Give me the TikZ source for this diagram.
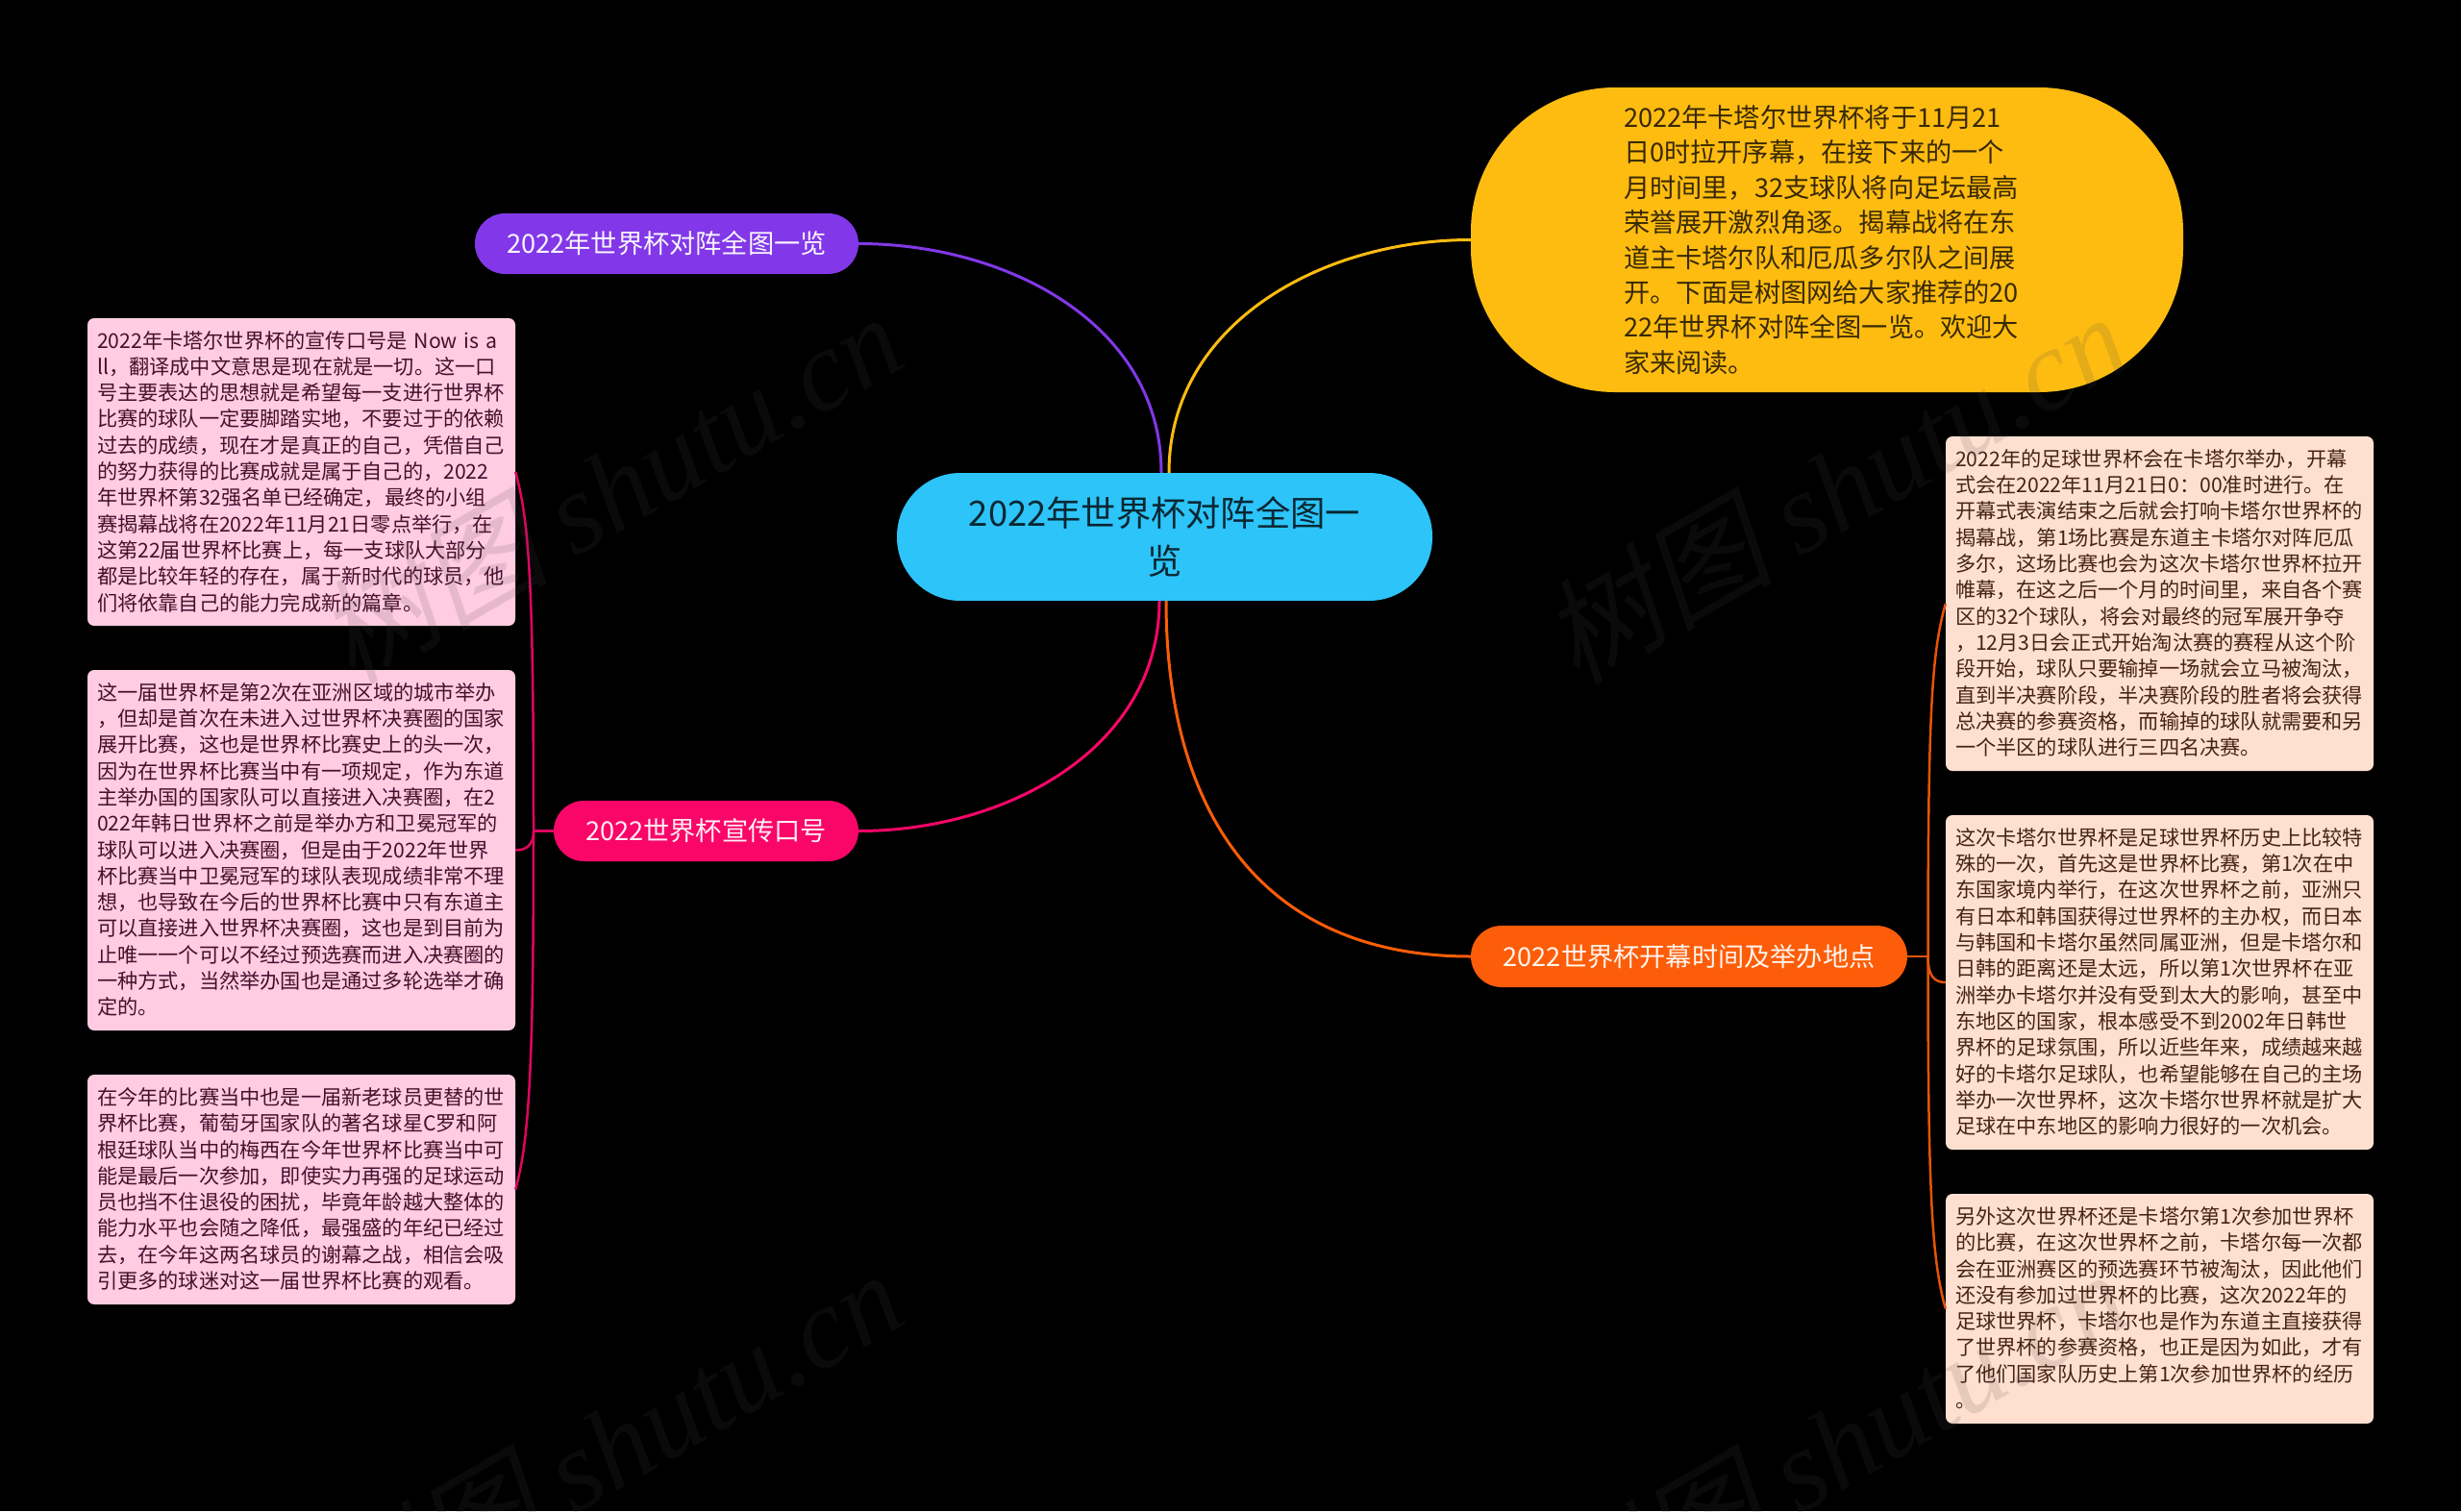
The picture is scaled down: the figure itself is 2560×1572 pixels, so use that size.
\documentclass[tikz,border=0pt]{standalone}
\usepackage{fontspec}
\usepackage{tikz}
\setmainfont{Noto Sans CJK SC}
\newfontfamily\markcjk[FakeSlant=0.2]{Noto Sans CJK SC}
\newfontfamily\marklatin{Liberation Serif}[ItalicFont=* Italic]
\definecolor{rootcol}{RGB}{45,196,249}
\definecolor{introcol}{RGB}{254,188,17}
\definecolor{titlecol}{RGB}{130,56,232}
\definecolor{slogancol}{RGB}{250,6,104}
\definecolor{opencol}{RGB}{253,93,8}
\definecolor{pinkcol}{RGB}{255,204,225}
\definecolor{peachcol}{RGB}{255,224,208}
\definecolor{pinktext}{RGB}{70,15,45}
\definecolor{peachtext}{RGB}{70,35,20}
\tikzset{
  pill/.style={fill=#1, inner sep=0pt, align=center},
  leaf/.style={inner xsep=10pt, inner ysep=0pt, text width=425pt, align=left, rounded corners=7pt,
    font=\fontsize{21.2pt}{27.3pt}\selectfont,
    execute at begin node={\rule{0pt}{21pt}}, execute at end node={\rule[-6pt]{0pt}{6pt}}},
  leafpink/.style={leaf, fill=pinkcol, text=pinktext},
  leafpeach/.style={leaf, fill=peachcol, text=peachtext},
  link/.style={line width=3pt, draw=#1},
  sublink/.style={line width=2.5pt, draw=#1!90!black},
  markword/.style={anchor=base east, rotate=30, text=black!72, text opacity=0.14,
    font=\fontsize{120pt}{120pt}\selectfont}
}
\newcommand{\markword}{{\markcjk 树图} {\marklatin\itshape shutu.cn}}
\begin{document}
\begin{tikzpicture}[x=1pt,y=-1pt]
        \fill[black] (0,0) rectangle (2560,1572);
        \useasboundingbox (0,0) rectangle (2560,1572);
        \node[pill=rootcol, rounded corners=66pt, minimum width=557pt, minimum height=133pt, text=rootcol!20!black,
          font=\fontsize{36.3pt}{50pt}\selectfont] at (1211.5,558.5) (root){2022年世界杯对阵全图一\\览};
        \node[pill=introcol, rounded corners=150pt, minimum width=741pt, minimum height=317pt, text=introcol!22!black,
          text width=423pt, align=left, font=\fontsize{27.2pt}{36.4pt}\selectfont] at (1900.5,249.5) (intro){2022年卡塔尔世界杯将于11月21\\
          日0时拉开序幕，在接下来的一个\\
          月时间里，32支球队将向足坛最高\\
          荣誉展开激烈角逐。揭幕战将在东\\
          道主卡塔尔队和厄瓜多尔队之间展\\
          开。下面是树图网给大家推荐的20\\
          22年世界杯对阵全图一览。欢迎大\\
          家来阅读。};
        \node[pill=titlecol, rounded corners=31.5pt, minimum width=399pt, minimum height=63pt, text=white!95!titlecol,
          font=\fontsize{27.2pt}{36pt}\selectfont] at (693.5,253.5) (title){2022年世界杯对阵全图一览};
        \node[pill=slogancol, rounded corners=31.5pt, minimum width=317pt, minimum height=63pt, text=white!93!slogancol,
          font=\fontsize{27.2pt}{36pt}\selectfont] at (734.5,864.5) (slogan){2022世界杯宣传口号};
        \node[pill=opencol, rounded corners=32pt, minimum width=454pt, minimum height=64pt, text=white!93!opencol,
          font=\fontsize{27.2pt}{36pt}\selectfont] at (1757,995) (open){2022世界杯开幕时间及举办地点};
        \node[leafpink, minimum height=320pt] at (313.5,491) (slogana){2022年卡塔尔世界杯的宣传口号是 Now is a\\
          ll，翻译成中文意思是现在就是一切。这一口\\
          号主要表达的思想就是希望每一支进行世界杯\\
          比赛的球队一定要脚踏实地，不要过于的依赖\\
          过去的成绩，现在才是真正的自己，凭借自己\\
          的努力获得的比赛成就是属于自己的，2022\\
          年世界杯第32强名单已经确定，最终的小组\\
          赛揭幕战将在2022年11月21日零点举行，在\\
          这第22届世界杯比赛上，每一支球队大部分\\
          都是比较年轻的存在，属于新时代的球员，他\\
          们将依靠自己的能力完成新的篇章。};
        \node[leafpink, minimum height=375pt] at (313.5,884.5) (sloganb){这一届世界杯是第2次在亚洲区域的城市举办\\
          ，但却是首次在未进入过世界杯决赛圈的国家\\
          展开比赛，这也是世界杯比赛史上的头一次，\\
          因为在世界杯比赛当中有一项规定，作为东道\\
          主举办国的国家队可以直接进入决赛圈，在2\\
          022年韩日世界杯之前是举办方和卫冕冠军的\\
          球队可以进入决赛圈，但是由于2022年世界\\
          杯比赛当中卫冕冠军的球队表现成绩非常不理\\
          想，也导致在今后的世界杯比赛中只有东道主\\
          可以直接进入世界杯决赛圈，这也是到目前为\\
          止唯一一个可以不经过预选赛而进入决赛圈的\\
          一种方式，当然举办国也是通过多轮选举才确\\
          定的。};
        \node[leafpink, minimum height=239pt] at (313.5,1237.5) (sloganc){在今年的比赛当中也是一届新老球员更替的世\\
          界杯比赛，葡萄牙国家队的著名球星C罗和阿\\
          根廷球队当中的梅西在今年世界杯比赛当中可\\
          能是最后一次参加，即使实力再强的足球运动\\
          员也挡不住退役的困扰，毕竟年龄越大整体的\\
          能力水平也会随之降低，最强盛的年纪已经过\\
          去，在今年这两名球员的谢幕之战，相信会吸\\
          引更多的球迷对这一届世界杯比赛的观看。};
        \node[leafpeach, minimum height=348pt] at (2246.5,628) (opena){2022年的足球世界杯会在卡塔尔举办，开幕\\
          式会在2022年11月21日0：00准时进行。在\\
          开幕式表演结束之后就会打响卡塔尔世界杯的\\
          揭幕战，第1场比赛是东道主卡塔尔对阵厄瓜\\
          多尔，这场比赛也会为这次卡塔尔世界杯拉开\\
          帷幕，在这之后一个月的时间里，来自各个赛\\
          区的32个球队，将会对最终的冠军展开争夺\\
          ，12月3日会正式开始淘汰赛的赛程从这个阶\\
          段开始，球队只要输掉一场就会立马被淘汰，\\
          直到半决赛阶段，半决赛阶段的胜者将会获得\\
          总决赛的参赛资格，而输掉的球队就需要和另\\
          一个半区的球队进行三四名决赛。};
        \node[leafpeach, minimum height=348pt] at (2246.5,1022) (openb){这次卡塔尔世界杯是足球世界杯历史上比较特\\
          殊的一次，首先这是世界杯比赛，第1次在中\\
          东国家境内举行，在这次世界杯之前，亚洲只\\
          有日本和韩国获得过世界杯的主办权，而日本\\
          与韩国和卡塔尔虽然同属亚洲，但是卡塔尔和\\
          日韩的距离还是太远，所以第1次世界杯在亚\\
          洲举办卡塔尔并没有受到太大的影响，甚至中\\
          东地区的国家，根本感受不到2002年日韩世\\
          界杯的足球氛围，所以近些年来，成绩越来越\\
          好的卡塔尔足球队，也希望能够在自己的主场\\
          举办一次世界杯，这次卡塔尔世界杯就是扩大\\
          足球在中东地区的影响力很好的一次机会。};
        \node[leafpeach, minimum height=239pt] at (2246.5,1361.5) (openc){另外这次世界杯还是卡塔尔第1次参加世界杯\\
          的比赛，在这次世界杯之前，卡塔尔每一次都\\
          会在亚洲赛区的预选赛环节被淘汰，因此他们\\
          还没有参加过世界杯的比赛，这次2022年的\\
          足球世界杯，卡塔尔也是作为东道主直接获得\\
          了世界杯的参赛资格，也正是因为如此，才有\\
          了他们国家队历史上第1次参加世界杯的经历\\
          \leavevmode 。};
        \coordinate (leftjoin) at (555,864.5);
        \coordinate (rightjoin) at (2005.5,995);
        \draw[link=titlecol] ([xshift=-3.5pt]root.north) to [out=90,in=0] (title.east);
        \draw[link=introcol] ([xshift=4.5pt]root.north) to [out=90,in=180] (intro.west);
        \draw[link=slogancol] ([xshift=-5.5pt]root.south) to [out=270,in=0] (slogan.east);
        \draw[link=opencol] ([xshift=1.5pt]root.south) to [out=270,in=180,looseness=1.15] (open.west);
        \draw[sublink=slogancol] (slogan.west) -- (leftjoin);
        \draw[sublink=slogancol] (leftjoin) .. controls +(0,-260) and +(14,50) .. (slogana.east);
        \draw[sublink=slogancol] (leftjoin) .. controls +(0,14) and +(12,0) .. (sloganb.east);
        \draw[sublink=slogancol] (leftjoin) .. controls +(0,250) and +(14,-50) .. (sloganc.east);
        \draw[sublink=opencol] (open.east) -- (rightjoin);
        \draw[sublink=opencol] (rightjoin) .. controls +(0,-260) and +(-14,50) .. (opena.west);
        \draw[sublink=opencol] (rightjoin) .. controls +(0,20) and +(-12,0) .. (openb.west);
        \draw[sublink=opencol] (rightjoin) .. controls +(0,250) and +(-14,-50) .. (openc.west);
        \node[markword] at (950,377) (marka){\markword};
        \node[markword] at (2224,377) (markb){\markword};
        \node[markword] at (950,1373) (markc){\markword};
        \node[markword] at (2224,1373) (markd){\markword};
      \end{tikzpicture}
\end{document}
